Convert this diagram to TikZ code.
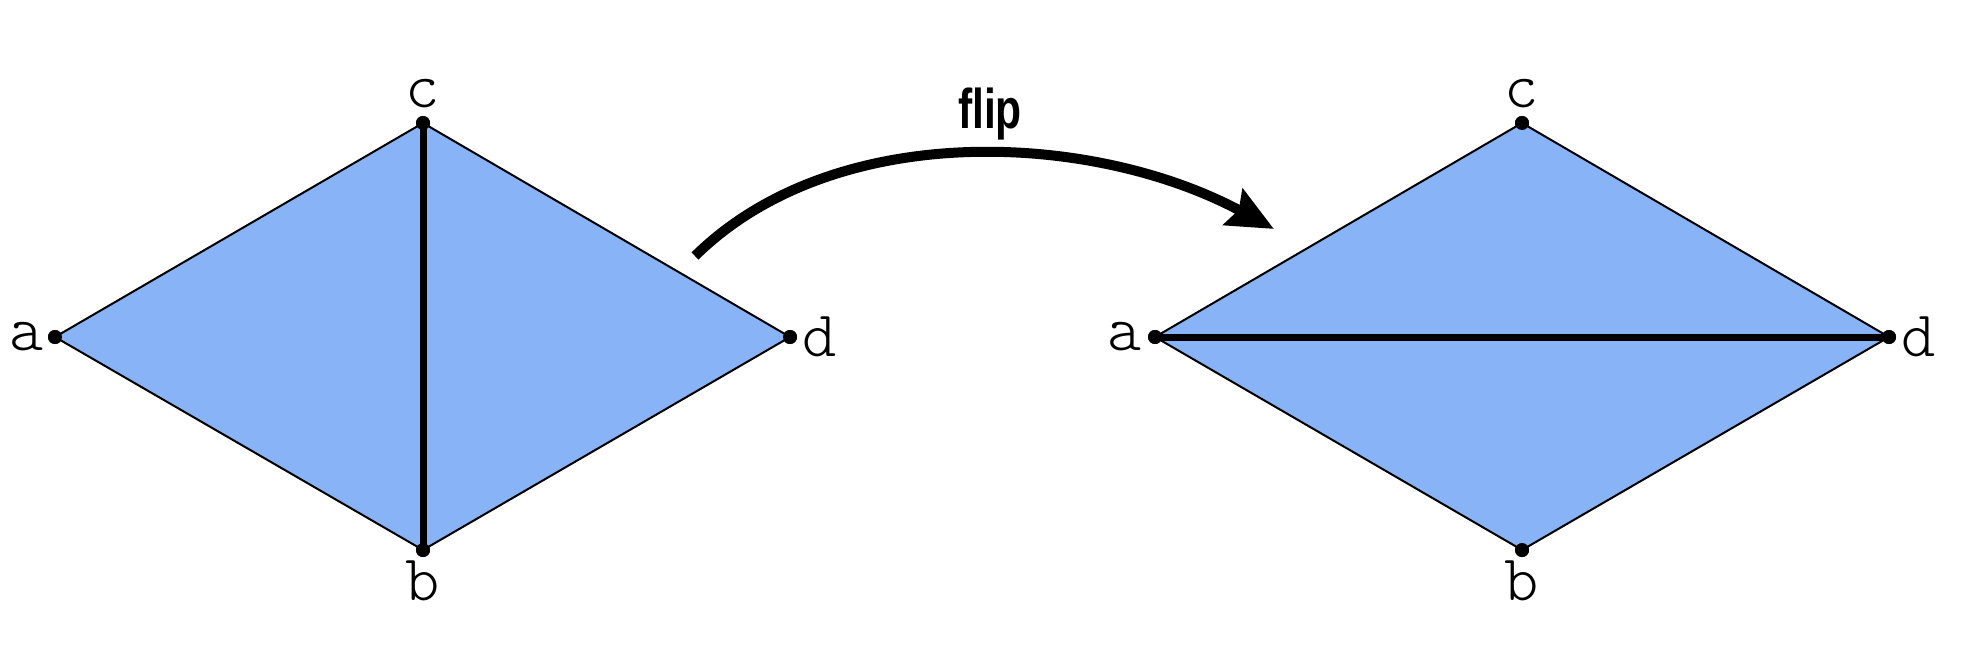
\documentclass[tikz,border=0pt]{standalone}
\usepackage{fontspec}
\newfontfamily\vertfont{Latin Modern Mono Light}
\newfontfamily\flipfont[FakeStretch=0.76]{Liberation Sans}
\usepackage{tikz}
\usetikzlibrary{arrows.meta, positioning}
\definecolor{faceblue}{RGB}{137,179,247}

\begin{document}
\begin{tikzpicture}[
            x=1pt, y=-1pt,
            dot/.style={circle, fill=black, inner sep=0pt, minimum size=14pt},
            vlabel/.style={inner sep=0pt, font=\vertfont\fontsize{65}{65}\selectfont},
            face/.style={fill=faceblue},
            edge/.style={line width=2pt},
            diag/.style={line width=7pt}
        ]
        \useasboundingbox (0,0) rectangle (1974,648);

        % Before the flip
        \node[dot] (la) at (55,337) {};
        \node[dot] (lc) at (423,123) {};
        \node[dot] (ld) at (790,337) {};
        \node[dot] (lb) at (423,550) {};
        \fill[face] (la.center) -- (lc.center) -- (ld.center) -- (lb.center) -- cycle;
        \draw[edge, line join=round] (la.center) -- (lc.center) -- (ld.center) -- (lb.center) -- cycle;
        \draw[diag] (lc.center) -- (lb.center);
        \node[dot] at (la) {};
        \node[dot] at (lc) {};
        \node[dot] at (ld) {};
        \node[dot] at (lb) {};
        \node[vlabel, left=4pt of la] {a};
        \node[vlabel, above=8pt of lc] {c};
        \node[vlabel, right=5pt of ld] {d};
        \node[vlabel, below=3pt of lb] {b};

        % After the flip
        \node[dot] (ra) at (1155,337) {};
        \node[dot] (rc) at (1522,123) {};
        \node[dot] (rd) at (1889,337) {};
        \node[dot] (rb) at (1522,550) {};
        \fill[face] (ra.center) -- (rc.center) -- (rd.center) -- (rb.center) -- cycle;
        \draw[edge, line join=round] (ra.center) -- (rc.center) -- (rd.center) -- (rb.center) -- cycle;
        \draw[diag] (ra.center) -- (rd.center);
        \node[dot] at (ra) {};
        \node[dot] at (rc) {};
        \node[dot] at (rd) {};
        \node[dot] at (rb) {};
        \node[vlabel, left=6pt of ra] {a};
        \node[vlabel, above=8pt of rc] {c};
        \node[vlabel, right=5pt of rd] {d};
        \node[vlabel, below=3pt of rb] {b};

        % flip arrow
        \coordinate (fstart) at (695,256);
        \coordinate (fend) at (1274,229);
        \draw[line width=10pt, -{Stealth[length=46pt, width=40pt, inset=6pt]}]
            (fstart) .. controls (835,118) and (1094,132) .. (fend);
        \node[font=\flipfont\bfseries\fontsize{56}{56}\selectfont] (flip) at (990,114) {flip};
    \end{tikzpicture}
\end{document}
